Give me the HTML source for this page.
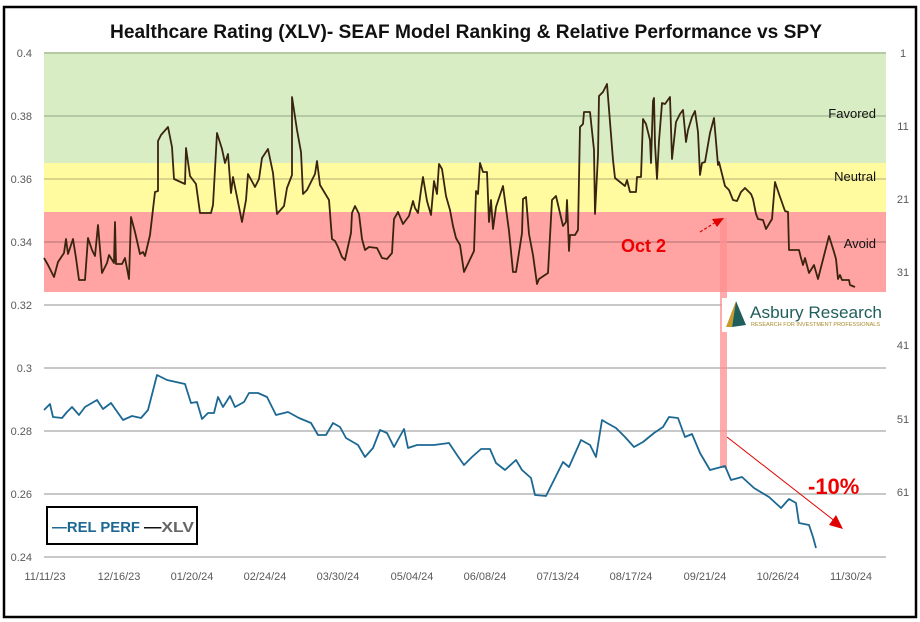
<!DOCTYPE html>
<html><head><meta charset="utf-8"><style>
html,body{margin:0;padding:0;background:#fff;}
svg{display:block;font-family:"Liberation Sans",sans-serif;}
</style></head><body>
<svg width="920" height="622" viewBox="0 0 920 622" xmlns="http://www.w3.org/2000/svg">
<rect x="0" y="0" width="920" height="622" fill="#fff"/>
<rect x="4" y="7" width="912" height="610" fill="#fff" stroke="#000" stroke-width="2.5"/>
<text x="466" y="38" text-anchor="middle" font-size="19" font-weight="bold" fill="#111" textLength="712" lengthAdjust="spacingAndGlyphs">Healthcare Rating (XLV)- SEAF Model Ranking &amp; Relative Performance vs SPY</text>
<!-- bands -->
<rect x="44" y="53" width="842" height="110" fill="#d8edc4"/>
<rect x="44" y="163" width="842" height="49" fill="#fffb9e"/>
<rect x="44" y="212" width="842" height="80" fill="#ffa3a3"/>
<!-- gridlines -->
<g stroke="#c8c8c8" stroke-width="2">
<line x1="44" y1="53" x2="886" y2="53" stroke="#b5c9a4"/>
<line x1="44" y1="116" x2="886" y2="116" stroke="#b5c9a4"/>
<line x1="44" y1="179" x2="886" y2="179" stroke="#d8d48a"/>
<line x1="44" y1="242" x2="886" y2="242" stroke="#d88a8a"/>
<line x1="44" y1="305" x2="886" y2="305"/>
<line x1="44" y1="368" x2="886" y2="368"/>
<line x1="44" y1="431" x2="886" y2="431"/>
<line x1="44" y1="494" x2="886" y2="494"/>
<line x1="44" y1="557" x2="886" y2="557"/>
</g>
<g font-size="11" fill="#595959" text-anchor="end">
<text x="32" y="57">0.4</text><text x="32" y="120">0.38</text><text x="32" y="183">0.36</text><text x="32" y="246">0.34</text><text x="32" y="309">0.32</text><text x="32" y="372">0.3</text><text x="32" y="435">0.28</text><text x="32" y="498">0.26</text><text x="32" y="561">0.24</text>
</g>
<g font-size="11" fill="#595959" text-anchor="middle">
<text x="903" y="57">1</text><text x="903" y="130">11</text><text x="903" y="203">21</text><text x="903" y="276">31</text><text x="903" y="349">41</text><text x="903" y="423">51</text><text x="903" y="496">61</text>
</g>
<g font-size="11" fill="#595959" text-anchor="middle">
<text x="45" y="580">11/11/23</text><text x="119" y="580">12/16/23</text><text x="192" y="580">01/20/24</text><text x="265" y="580">02/24/24</text><text x="338" y="580">03/30/24</text><text x="412" y="580">05/04/24</text><text x="485" y="580">06/08/24</text><text x="558" y="580">07/13/24</text><text x="631" y="580">08/17/24</text><text x="705" y="580">09/21/24</text><text x="778" y="580">10/26/24</text><text x="851" y="580">11/30/24</text>
</g>
<g font-size="13" fill="#111" text-anchor="end">
<text x="876" y="118">Favored</text><text x="876" y="181">Neutral</text><text x="876" y="248">Avoid</text>
</g>
<!-- pink vertical band -->
<rect x="720" y="218" width="7" height="250" fill="#ff8f8f" opacity="0.75"/>
<!-- XLV -->
<polyline fill="none" stroke="#3a2410" stroke-width="1.8" stroke-linejoin="round" points="44,258 48,265 54,277 58,262 64,253 66,239 68,254 73,239 76,258 79,280 85,280 88,238 92,250 95,256 98,225 102,273 107,263 109,255 114,263 115,222 116,264 122,264 125,258 129,279 131,217 135,232 140,254 143,252 145,256 150,235 155,192 158,191 158,141 161,135 168,127 172,147 174,179 185,184 186,148 190,176 196,184 200,213 211,213 213,205 217,133 222,149 225,163 228,154 231,193 233,177 236,192 242,222 246,200 248,174 255,187 259,179 262,158 268,149 273,173 277,214 284,206 287,188 292,175 292,97 297,130 301,152 303,194 307,190 315,174 317,161 320,185 329,200 332,239 335,241 338,247 342,257 345,260 351,233 352,213 355,206 359,214 362,239 365,250 369,247 377,248 382,258 387,259 392,253 394,219 398,212 403,224 409,216 413,201 415,208 418,213 421,190 423,177 427,201 431,215 434,181 437,194 439,164 442,169 446,196 450,210 453,226 456,238 460,245 464,272 474,251 476,191 478,194 480,163 483,172 487,172 489,222 491,200 493,229 496,207 503,186 509,231 513,272 516,272 522,233 523,199 526,197 529,234 533,255 537,284 539,279 548,273 552,200 556,196 563,226 566,222 567,200 569,251 570,235 575,235 578,230 580,127 583,124 584,112 590,112 594,150 595,214 598,155 599,96 603,92 607,84 613,160 615,178 625,186 627,180 630,192 636,192 637,177 641,177 643,119 646,124 650,140 651,163 653,101 654,98 655,144 657,179 659,141 662,103 665,104 670,97 672,159 676,122 680,114 683,110 686,142 688,130 692,117 695,111 698,132 700,175 702,163 705,162 710,133 714,118 718,165 719,162 725,186 729,190 733,200 737,201 741,192 745,188 751,194 753,199 756,214 758,219 763,220 766,229 772,219 775,182 779,194 785,211 788,212 789,250 799,250 801,258 803,265 805,258 809,273 814,265 818,279 829,236 834,252 836,259 838,279 840,275 842,280 849,280 850,285 855,287"/>
<!-- REL PERF -->
<polyline fill="none" stroke="#1c6892" stroke-width="1.8" stroke-linejoin="round" points="44,410 50,404 53,417 62,418 67,412 72,407 79,415 85,407 97,400 103,409 111,403 123,420 132,416 141,418 148,410 157,375 167,380 176,382 185,384 191,403 197,402 202,419 208,413 214,413 218,397 223,407 230,396 235,407 244,402 249,393 258,393 267,397 276,415 288,412 299,418 311,423 318,435 326,435 333,423 340,427 346,438 358,445 365,457 373,448 380,430 387,433 394,447 404,429 408,448 417,445 434,445 449,443 457,455 464,465 472,457 481,449 490,449 496,463 505,470 516,460 522,470 531,478 535,495 546,496 555,478 563,462 569,467 581,440 590,445 596,457 602,420 607,423 616,428 625,437 634,447 643,442 654,433 663,427 669,417 678,418 685,437 692,434 700,453 710,470 725,466 731,480 742,477 754,488 769,497 781,508 789,499 796,503 799,523 809,525 813,537 816,548"/>
<!-- arrows -->
<line x1="727" y1="437" x2="836" y2="522" stroke="#e00000" stroke-width="1"/>
<polygon points="843,529 829,525 836,515" fill="#e00000"/>
<text x="808" y="494" font-size="22" font-weight="bold" fill="#ee0000">-10%</text>
<line x1="700" y1="232" x2="716" y2="222" stroke="#e00000" stroke-width="1.2" stroke-dasharray="3,2"/>
<polygon points="724,218 712,219 717,227" fill="#e00000"/>
<text x="621" y="252" font-size="18" font-weight="bold" fill="#ee0000">Oct 2</text>
<!-- logo -->
<rect x="722" y="298" width="164" height="34" fill="#fff"/>
<path d="M736,301 L726,327 L732,327 Z" fill="#c89a2a"/>
<path d="M736,301 L732,327 L746,325 Z" fill="#1f5e5a"/>
<text x="750" y="318" font-size="17" fill="#1f5e5a" textLength="132" lengthAdjust="spacingAndGlyphs">Asbury Research</text>
<text x="751" y="326" font-size="5.5" fill="#a88a2a" textLength="129" lengthAdjust="spacingAndGlyphs">RESEARCH FOR INVESTMENT PROFESSIONALS</text>
<!-- legend -->
<rect x="47" y="507" width="150" height="37" fill="#fff" stroke="#000" stroke-width="2"/>
<text x="52" y="532" font-size="15" font-weight="bold" fill="#1c6892" textLength="88" lengthAdjust="spacingAndGlyphs">—REL PERF</text>
<text x="144" y="532" font-size="15" font-weight="bold" fill="#666" textLength="50" lengthAdjust="spacingAndGlyphs"><tspan fill="#111">—</tspan>XLV</text>
</svg>
</body></html>
